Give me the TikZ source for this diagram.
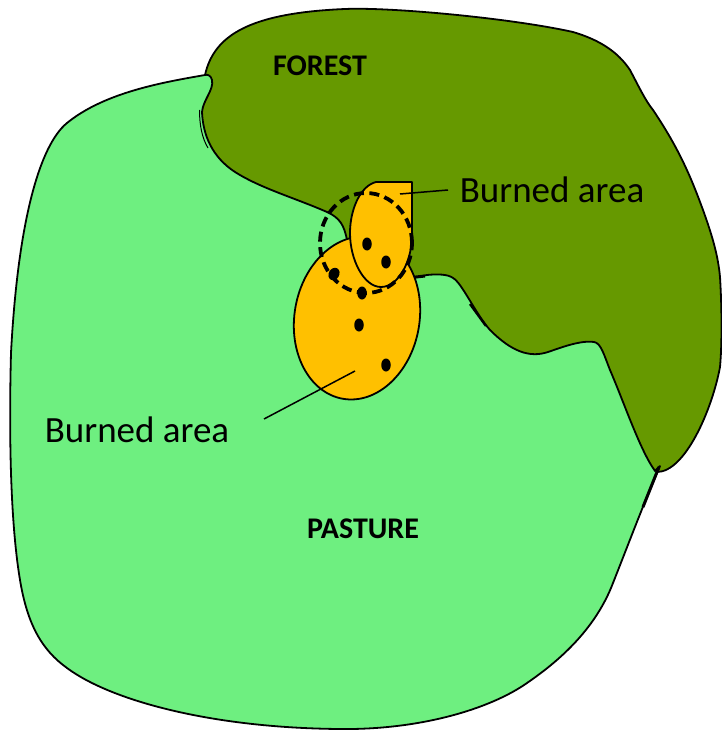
\documentclass[tikz,border=0pt]{standalone}
\usepackage{fontspec}
\setmainfont{Carlito}
\usetikzlibrary{shapes.geometric}
\definecolor{forestgreen}{RGB}{102,153,0}
\definecolor{pasturegreen}{RGB}{110,239,128}
\definecolor{burnorange}{RGB}{255,192,0}
\tikzset{
	region/.style={draw=black,line width=1.8pt,line join=round},
	burnspot/.style={ellipse,fill=black,inner sep=0pt,minimum width=9.5pt,minimum height=13pt},
	landname/.style={font=\bfseries\fontsize{30}{30}\selectfont},
	burnname/.style={font=\fontsize{37}{37}\selectfont}
}
\begin{document}
\begin{tikzpicture}[x=1pt,y=-1pt]
	\useasboundingbox (0,0) rectangle (721,730);
	\draw[region,fill=forestgreen] (205,75) .. controls (214,35) and (250,13) .. (345,9)
		.. controls (390,7) and (510,18) .. (573,32)
		.. controls (600,40) and (618,52) .. (630,70)
		.. controls (638,85) and (645,100) .. (653,110)
		.. controls (680,150) and (692,180) .. (703,210)
		.. controls (712,235) and (718,255) .. (720,277)
		.. controls (722,310) and (722,345) .. (720,367)
		.. controls (712,410) and (685,472) .. (657,472)
		-- (640,460) -- (590,360) -- (500,360) -- (430,290) -- (340,250) -- (250,190)
		.. controls (215,170) and (198,140) .. (200,107) -- cycle;
	\draw[region,fill=pasturegreen] (205,75) .. controls (165,82) and (105,92) .. (67,123)
		.. controls (40,145) and (18,220) .. (11,353)
		.. controls (9,430) and (10,520) .. (20,580)
		.. controls (27.5,625) and (42,650) .. (67,668)
		.. controls (110,700) and (210,728) .. (340,729)
		.. controls (420,730) and (490,709) .. (527,683)
		.. controls (565,657) and (597,625) .. (613,583)
		.. controls (630,540) and (645,500) .. (660,466)
		-- (655,471) .. controls (640,450) and (625,405) .. (610,370)
		.. controls (604,355) and (601,343) .. (594,342)
		.. controls (580,340) and (560,348) .. (548,352)
		.. controls (530,358) and (512,352) .. (490,330)
		.. controls (475,313) and (462,283) .. (453,278)
		.. controls (448,274) and (436,274) .. (427,275)
		-- (408,279) -- (347,240)
		.. controls (344,225) and (340,218) .. (327,212)
		.. controls (295,198) and (260,188) .. (235,172)
		.. controls (212,157) and (203,135) .. (202,112)
		.. controls (203,100) and (214,90) .. (212,80)
		.. controls (211,76) and (208,74) .. (205,75) -- cycle;
	\draw[line width=1pt] (199.5,110) .. controls (199.5,125) and (202,138) .. (208,148);
	\draw[line width=3pt] (643,507) -- (659,467);
	\draw[line width=3pt] (407,278) -- (425,276);
	\draw[line width=2.4pt] (470,304) -- (486,326);
	\node[region,fill=burnorange,ellipse,inner sep=0pt,minimum width=125pt,minimum height=164pt,rotate=-10] (burnlarge) at (357,318) {};
	\draw[region,fill=burnorange] (376,182) -- (412,182) -- (412,235)
		.. controls (412,262) and (398,287) .. (381,287)
		.. controls (364,287) and (350,260) .. (350,233)
		.. controls (350,210) and (360,186) .. (376,182) -- cycle;
	\node[draw=black,line width=3.8pt,dash pattern=on 10pt off 5.5pt,ellipse,inner sep=0pt,minimum width=92pt,minimum height=100pt] (burnring) at (366,243) {};
	\node[burnspot] (spota) at (367,244) {};
	\node[burnspot] (spotb) at (386,262) {};
	\node[burnspot,rotate=-30,minimum width=10.5pt] (spotc) at (334,274) {};
	\node[burnspot] (spotd) at (362,293) {};
	\node[burnspot] (spote) at (359,325) {};
	\node[burnspot] (spotf) at (386,365) {};
	\node[landname] (forestname) at (320,66) {FOREST};
	\node[landname] (pasturename) at (363,529) {PASTURE};
	\node[burnname] (burnnameupper) at (552,190) {Burned area};
	\node[burnname] (burnnamelower) at (137,430) {Burned area};
	\coordinate (leadupper) at (400,194);
	\coordinate (leadlower) at (355,371);
	\coordinate (endupper) at (448,190);
	\coordinate (endlower) at (264,419);
	\draw[line width=1.5pt] (leadupper) -- (endupper);
	\draw[line width=1.5pt] (leadlower) -- (endlower);
\end{tikzpicture}
\end{document}
